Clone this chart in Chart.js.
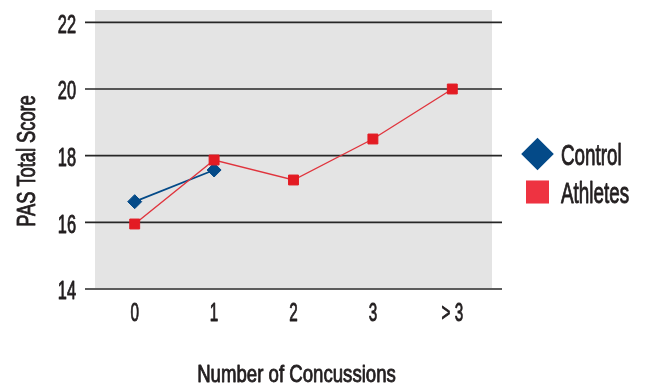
<!DOCTYPE html>
<html>
<head>
<meta charset="utf-8">
<script src="https://cdn.jsdelivr.net/npm/chart.js@4.4.1/dist/chart.umd.min.js"></script>
<style>
  html, body { margin: 0; padding: 0; background: #ffffff; }
  #wrap { width: 647px; height: 386px; }
</style>
</head>
<body>
<div id="wrap"><canvas id="c" width="647" height="386"></canvas></div>
<script>
// Mean PAS total score by number of concussions
const categories = ['0', '1', '2', '3', '> 3'];
const controlScores = [16.62, 17.57, null, null, null];
const athleteScores = [15.95, 17.87, 17.27, 18.5, 20.0];
const yTickValues = [14, 16, 18, 20, 22];
const seriesNames = ['Control', 'Athletes'];
const xTitle = 'Number of Concussions';
const yTitle = 'PAS Total Score';

const FONT = "'Liberation Sans', Arial, sans-serif";
const INK = '#231f20';
const PANEL = '#e4e4e4';
const RULE = '#262626';
const BLUE = '#044a88';
const RED = '#e31b23';

// Narrow-set label: a medium-weight face squeezed horizontally by sx
function narrowText(ctx, text, x, y, size, sx, align) {
  ctx.save();
  ctx.font = size + 'px ' + FONT;
  ctx.fillStyle = INK;
  ctx.strokeStyle = INK;
  ctx.lineWidth = 0.9;
  ctx.lineJoin = 'round';
  ctx.textAlign = align;
  ctx.textBaseline = 'alphabetic';
  ctx.translate(x, y);
  ctx.scale(sx, 1);
  ctx.fillText(text, 0, 0);
  ctx.strokeText(text, 0, 0);
  ctx.restore();
}

// Panel background, rules, tick labels, axis titles and the legend
const decor = {
  id: 'decor',
  beforeDraw(chart) {
    const { ctx, chartArea: a } = chart;
    ctx.save();
    ctx.fillStyle = PANEL;
    ctx.fillRect(a.left, a.top, a.right - a.left, a.bottom - a.top - 1);
    ctx.restore();
  },
  beforeDatasetsDraw(chart) {
    const { ctx, chartArea: a } = chart;
    const y = chart.scales.y;
    const x = chart.scales.x;
    ctx.save();
    ctx.strokeStyle = RULE;
    ctx.lineWidth = 1.6;
    y.ticks.forEach(t => {
      const py = y.getPixelForValue(t.value);
      ctx.beginPath();
      ctx.moveTo(a.left - 10, py);
      ctx.lineTo(a.right + 10, py);
      ctx.stroke();
      narrowText(ctx, String(t.value), a.left - 19, py + 10.3, 26, 0.63, 'right');
    });
    x.ticks.forEach((t, i) => {
      const px = x.getPixelForTick(i);
      narrowText(ctx, x.getLabelForValue(t.value), px, a.bottom + 32, 25, 0.61, 'center');
    });
    ctx.restore();
  },
  afterDraw(chart) {
    const { ctx, chartArea: a } = chart;

    // axis titles
    narrowText(ctx, xTitle, 296.5, 381.7, 24.5, 0.76, 'center');
    ctx.save();
    ctx.translate(35, 161);
    ctx.rotate(-Math.PI / 2);
    narrowText(ctx, yTitle, 0, 0, 25, 0.73, 'center');
    ctx.restore();

    // legend
    const legendX = a.right + 45.5;
    const rows = [154, 192];
    chart.data.datasets.forEach((ds, i) => {
      ctx.save();
      ctx.fillStyle = ds.legendColor;
      Chart.helpers.drawPoint(ctx, {
        pointStyle: ds.pointStyle, radius: 16.3, rotation: 0, borderWidth: 0
      }, legendX, rows[i]);
      ctx.restore();
      narrowText(ctx, ds.label, legendX + 23.5, rows[i] + 11, 29, 0.65, 'left');
    });
  }
};

new Chart(document.getElementById('c'), {
  type: 'line',
  data: {
    labels: categories,
    datasets: [
      {
        label: seriesNames[0],
        data: controlScores,
        borderColor: BLUE,
        backgroundColor: BLUE,
        legendColor: BLUE,
        borderWidth: 1.8,
        pointStyle: 'rectRot',
        pointRadius: 7,
        pointBorderWidth: 1,
        pointBorderColor: BLUE,
        pointBackgroundColor: BLUE,
        tension: 0,
        order: 2
      },
      {
        label: seriesNames[1],
        data: athleteScores,
        borderColor: '#e0343d',
        backgroundColor: RED,
        legendColor: '#ee3341',
        borderWidth: 1.4,
        pointStyle: 'rect',
        pointRadius: 7,
        pointBorderWidth: 1,
        pointBorderColor: RED,
        pointBackgroundColor: RED,
        tension: 0,
        order: 1
      }
    ]
  },
  options: {
    responsive: false,
    animation: false,
    events: [],
    layout: { padding: { left: 95, right: 155, top: 10, bottom: 97 } },
    plugins: {
      legend: { display: false },
      tooltip: { enabled: false },
      title: { display: false }
    },
    scales: {
      x: {
        type: 'category',
        offset: true,
        grid: { display: false, drawTicks: false },
        border: { display: false },
        ticks: { display: false }
      },
      y: {
        min: 14,
        max: 22.37,
        afterBuildTicks(axis) {
          axis.ticks = yTickValues.map(v => ({ value: v }));
        },
        grid: { display: false, drawTicks: false },
        border: { display: false },
        ticks: { display: false }
      }
    }
  },
  plugins: [decor]
});
</script>
</body>
</html>
